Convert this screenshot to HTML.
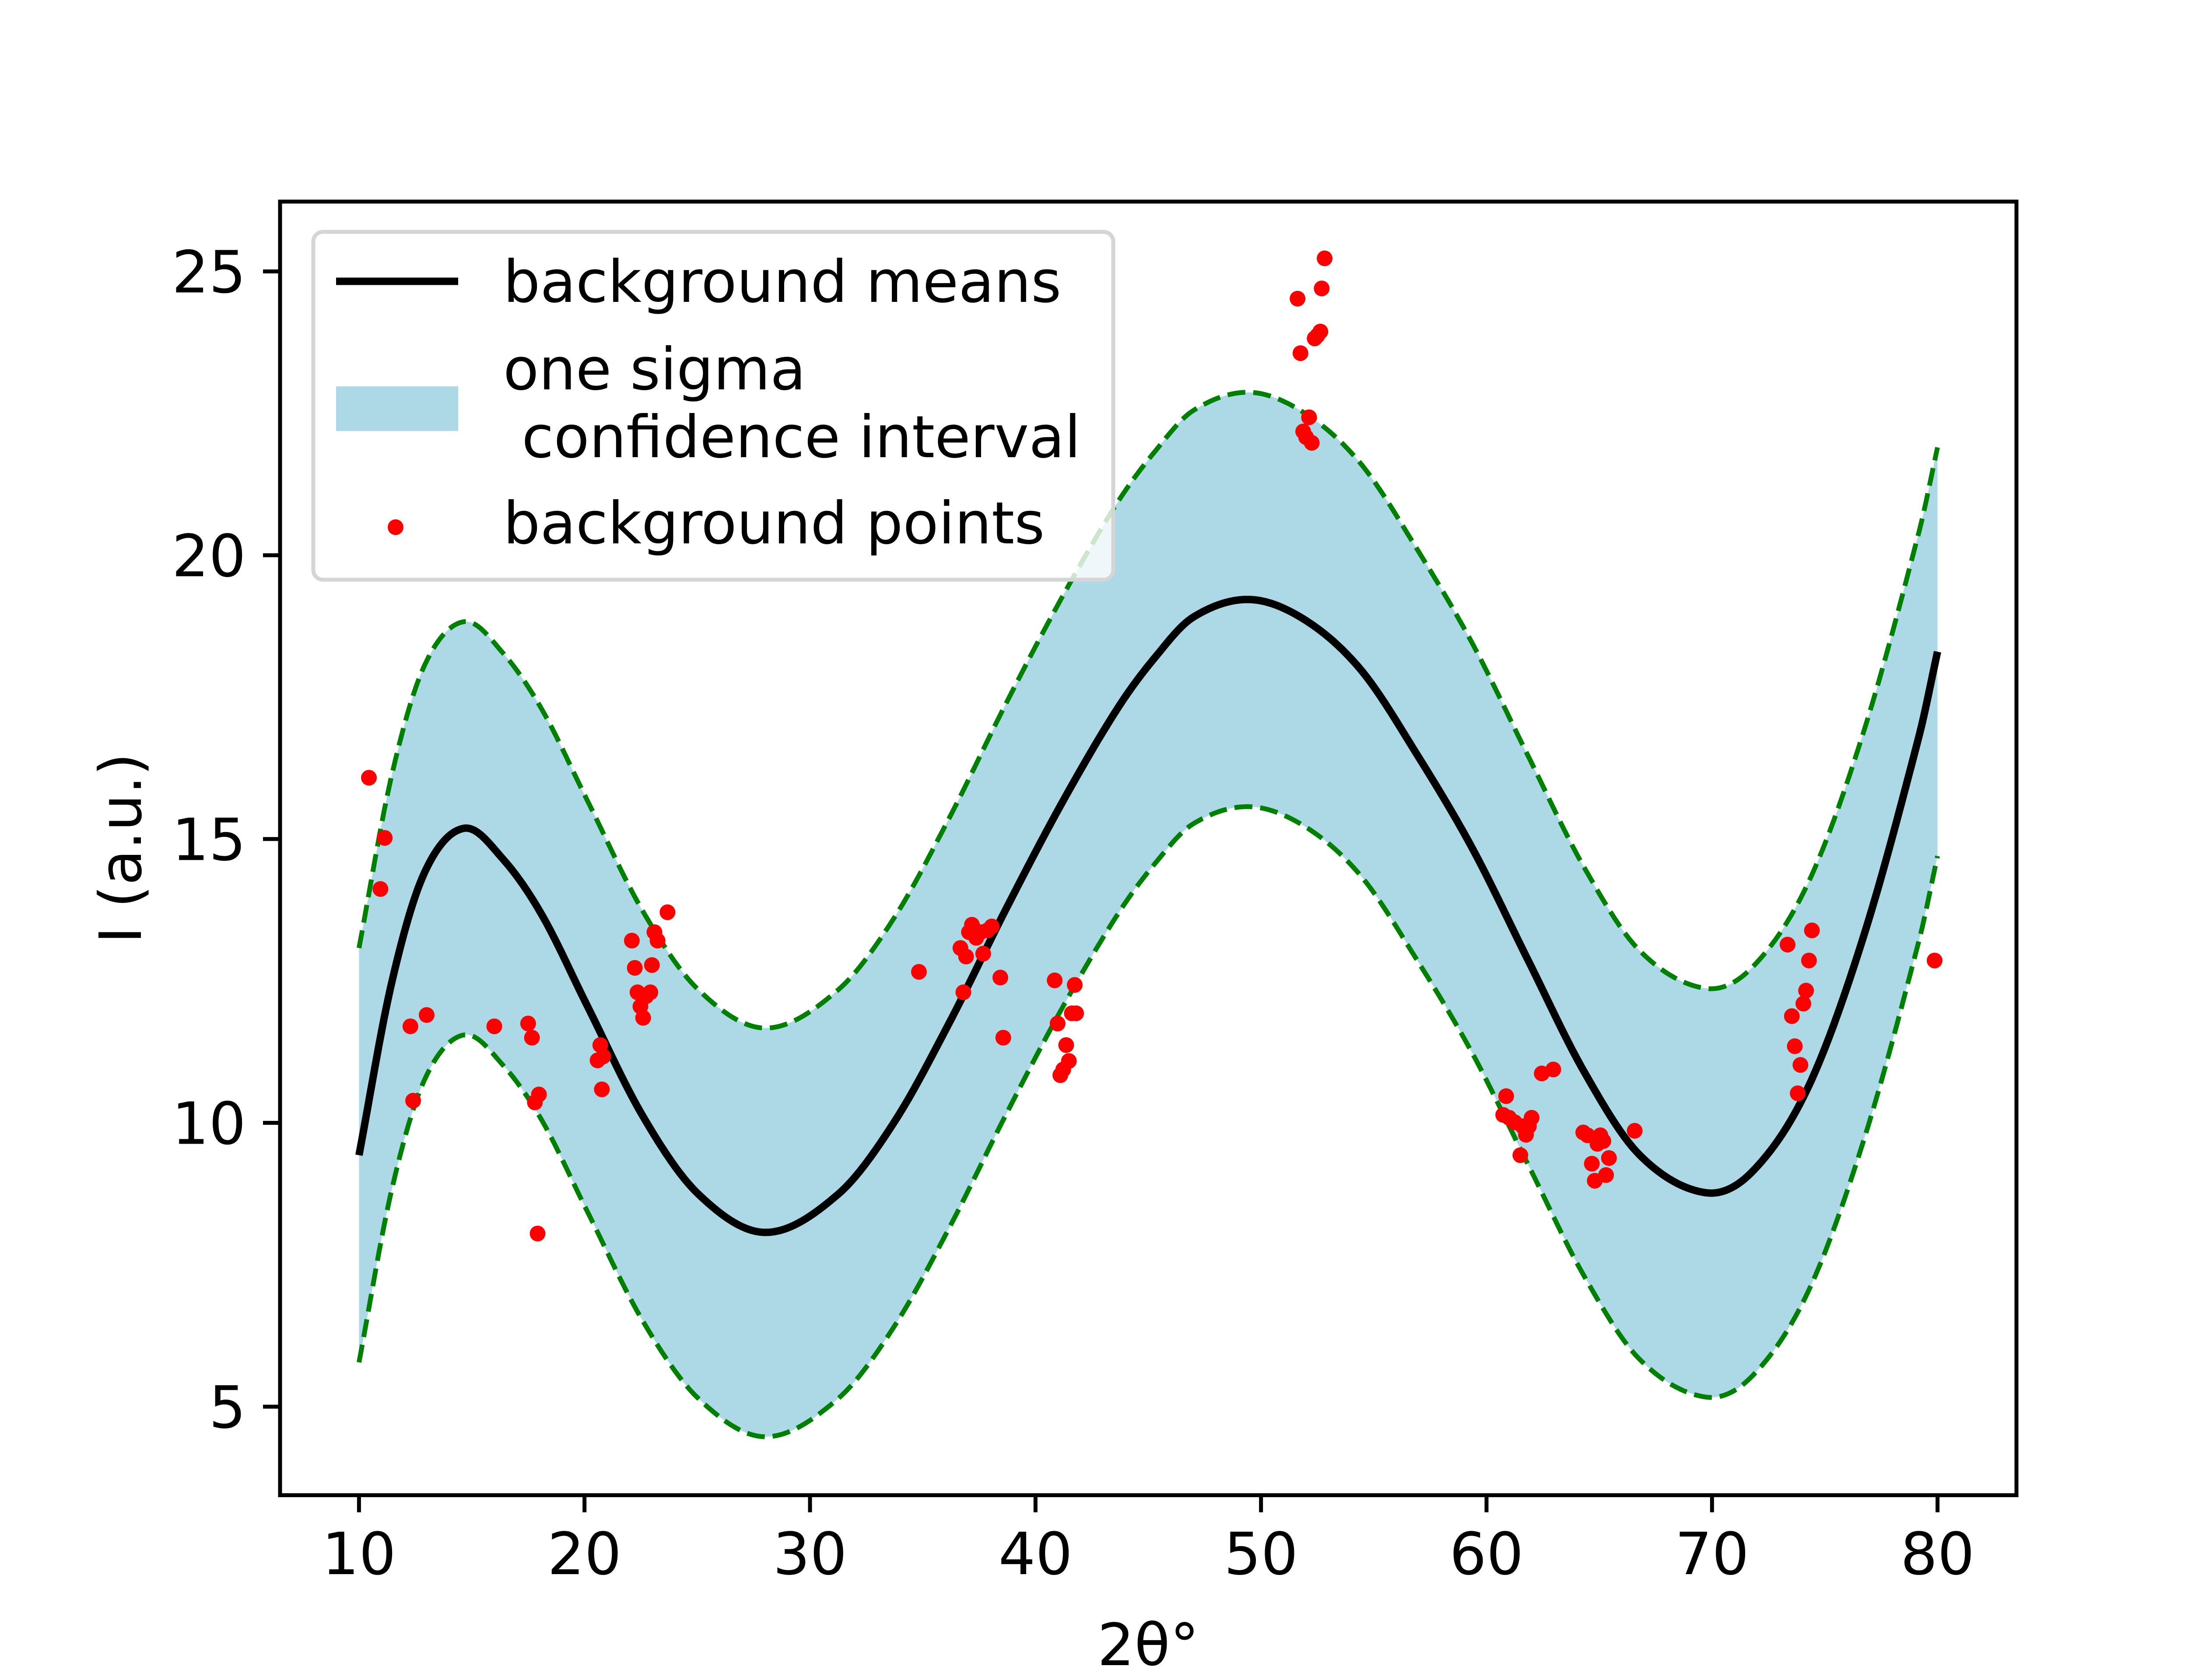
<!DOCTYPE html>
<html><head><meta charset="utf-8"><style>
html,body{margin:0;padding:0;background:#fff;}
svg{display:block;font-family:"DejaVu Sans","Liberation Sans",sans-serif;}
</style></head><body>
<svg id="chart" width="5120" height="3840" viewBox="0 0 5120 3840" xmlns="http://www.w3.org/2000/svg">
<rect width="5120" height="3840" fill="#fff"/>
<g id="plot"></g>
<rect x="640" y="460.8" width="3968" height="2956.8" fill="none" stroke="#000" stroke-width="9"/>
<g id="ticks"></g>
<text x="2624" y="3806" font-size="133" text-anchor="middle">2θ°</text>
<text transform="translate(322,1939) rotate(-90)" font-size="133" text-anchor="middle">I (a.u.)</text>
<g>
<rect x="716" y="530" width="1828" height="795" rx="22" fill="#fff" fill-opacity="0.8" stroke="#d5d5d5" stroke-width="9"/>
<line x1="768" y1="643" x2="1047" y2="643" stroke="#000" stroke-width="17"/>
<text x="1150" y="690" font-size="133">background means</text>
<rect x="768" y="883" width="279" height="102" fill="#add8e6"/>
<text x="1150" y="890" font-size="133">one sigma</text>
<text x="1150" y="1045" font-size="133" xml:space="preserve"> confidence interval</text>
<circle cx="904" cy="1205" r="18" fill="#ff0000"/>
<text x="1150" y="1242" font-size="133">background points</text>
</g>
</svg>
<script>
const xGrid = [10,11.45,12.93,14.67,16.4,18.13,20.1,22.6,25.06,28.03,31.24,33.73,36.2,38.67,41.15,43.62,45.3,47.0,49.48,51.95,54.43,56.9,59.38,61.85,64.33,66.8,69.7,71.76,74.23,76.7,79.17,80];
const meanVals = [9.43,12.47,14.43,15.19,14.64,13.65,12.08,10.11,8.74,8.07,8.74,10.01,11.78,13.75,15.62,17.29,18.2,18.91,19.22,18.86,17.98,16.5,14.83,12.86,10.9,9.43,8.77,9.13,10.6,13.26,16.8,18.3];
const sigmaVals = [3.65,3.65,3.65,3.64,3.63,3.62,3.62,3.61,3.6,3.6,3.6,3.6,3.61,3.62,3.62,3.63,3.63,3.64,3.65,3.64,3.63,3.62,3.61,3.6,3.6,3.6,3.6,3.6,3.6,3.6,3.6,3.6];
const ptX = [10.44,11.14,10.95,12.28,12.4,13.0,16.0,17.5,17.67,17.8,17.98,17.92,20.58,20.7,20.83,20.77,22.1,22.23,22.35,22.48,22.6,22.73,22.92,22.99,23.1,23.24,23.68,34.83,36.67,36.8,36.92,37.05,37.18,37.37,37.56,37.68,37.87,38.06,38.44,38.57,40.85,40.98,41.1,41.23,41.36,41.48,41.61,41.8,41.74,51.62,51.75,51.87,52.0,52.13,52.25,52.38,52.5,52.63,52.69,52.82,60.87,60.74,61.0,61.25,61.5,61.6,61.75,61.88,62.0,62.45,62.96,64.29,64.48,64.67,64.8,64.92,65.05,65.18,65.3,65.43,66.57,73.35,73.54,73.67,73.8,73.92,74.05,74.17,74.3,74.43,79.87];
const ptY = [16.08,15.02,14.12,11.7,10.39,11.9,11.7,11.75,11.5,10.36,10.5,8.05,11.1,11.37,11.17,10.59,13.21,12.73,12.3,12.05,11.85,12.23,12.3,12.78,13.36,13.21,13.71,12.66,13.08,12.3,12.93,13.36,13.49,13.26,13.36,12.98,13.39,13.46,12.56,11.5,12.51,11.75,10.84,10.94,11.37,11.09,11.93,11.93,12.43,24.52,23.56,22.18,22.08,22.43,21.98,23.82,23.87,23.94,24.7,25.23,10.47,10.14,10.09,10.01,9.43,9.94,9.79,9.94,10.09,10.87,10.94,9.83,9.78,9.28,8.98,9.63,9.78,9.68,9.08,9.38,9.86,13.14,11.88,11.35,10.52,11.02,12.1,12.33,12.86,13.39,12.86];
const xTicks = [10,20,30,40,50,60,70,80];
const yTicks = [5,10,15,20,25];

const XMIN=6.5, XMAX=83.5, YMIN=3.44, YMAX=26.23;
const L=640,R=4608,T=460.8,B=3417.6;
function X(v){return L+(v-XMIN)/(XMAX-XMIN)*(R-L);}
function Y(v){return B-(v-YMIN)/(YMAX-YMIN)*(B-T);}
const NS="http://www.w3.org/2000/svg";
function mk(tag,attrs,parent){const e=document.createElementNS(NS,tag);for(const k in attrs)e.setAttribute(k,attrs[k]);parent.appendChild(e);return e;}

function interp(xs,ys,x){
  let i=0;while(i<xs.length-2&&x>xs[i+1])i++;
  const x0=xs[i],x1=xs[i+1],y0=ys[i],y1=ys[i+1];
  const ym=i>0?ys[i-1]:y0-(y1-y0), yp=i<xs.length-2?ys[i+2]:y1+(y1-y0);
  const xm=i>0?xs[i-1]:x0-(x1-x0), xp=i<xs.length-2?xs[i+2]:x1+(x1-x0);
  const m0=(y1-ym)/(x1-xm)*(x1-x0), m1=(yp-y0)/(xp-x0)*(x1-x0);
  const t=(x-x0)/(x1-x0),t2=t*t,t3=t2*t;
  return (2*t3-3*t2+1)*y0+(t3-2*t2+t)*m0+(-2*t3+3*t2)*y1+(t3-t2)*m1;
}
const plot=document.getElementById('plot');
const dense=[];for(let k=0;k<=700;k++)dense.push(xGrid[0]+(xGrid[xGrid.length-1]-xGrid[0])*k/700);
const up=[],lo=[],mn=[];
dense.forEach(x=>{const m=interp(xGrid,meanVals,x),s=interp(xGrid,sigmaVals,x);
  mn.push([X(x),Y(m)]);up.push([X(x),Y(m+s)]);lo.push([X(x),Y(m-s)]);});
const pstr=a=>a.map((p,i)=>(i?'L':'M')+p[0].toFixed(1)+' '+p[1].toFixed(1)).join(' ');
const band=mk('path',{d:pstr(up)+' '+lo.slice().reverse().map(p=>'L'+p[0].toFixed(1)+' '+p[1].toFixed(1)).join(' ')+'Z',fill:'#add8e6'},plot);


const upL=mk('path',{d:pstr(up),fill:'none',stroke:'#008000','stroke-width':11,'stroke-dasharray':'41 18'},plot);


const loL=mk('path',{d:pstr(lo),fill:'none',stroke:'#008000','stroke-width':11,'stroke-dasharray':'41 18'},plot);


const mL=mk('path',{d:pstr(mn),fill:'none',stroke:'#000','stroke-width':17},plot);


ptX.forEach((x,i)=>{const c=mk('circle',{cx:X(x),cy:Y(ptY[i]),r:18,fill:'#ff0000'},plot);
  
  });
const tg=document.getElementById('ticks');
xTicks.forEach(v=>{const l=mk('line',{x1:X(v),x2:X(v),y1:B,y2:B+39,stroke:'#000','stroke-width':9},tg);
  
  
  const t=mk('text',{x:X(v),y:3598,'font-size':133,'text-anchor':'middle'},tg);t.textContent=v;
  
  });
yTicks.forEach(v=>{const l=mk('line',{x1:L-39,x2:L,y1:Y(v),y2:Y(v),stroke:'#000','stroke-width':9},tg);
  
  
  const t=mk('text',{x:562,y:Y(v)+48,'font-size':133,'text-anchor':'end'},tg);t.textContent=v;
  
  });
</script>
</body></html>
